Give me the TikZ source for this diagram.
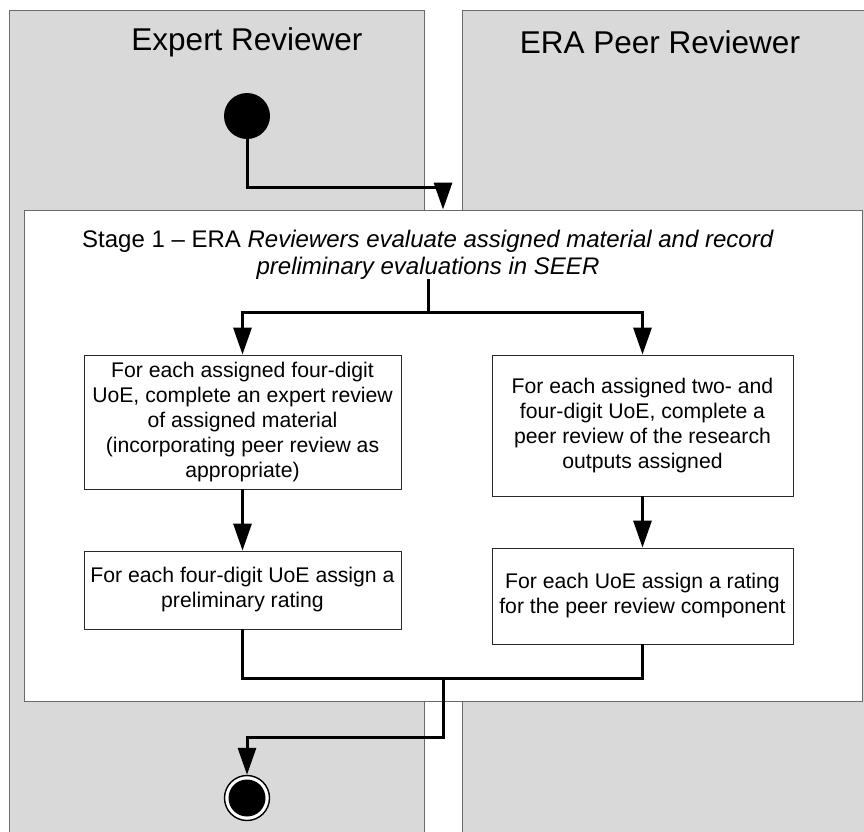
\documentclass[tikz,border=0pt]{standalone}
\usepackage{fontspec}
\setmainfont{Liberation Sans}
\usetikzlibrary{arrows.meta}
\definecolor{lanefill}{HTML}{D9D9D9}
\definecolor{laneedge}{HTML}{6A6A6A}
\definecolor{boxedge}{HTML}{2A2A2A}
\tikzset{
  lane/.style={fill=lanefill, draw=laneedge, line width=0.9pt},
  lanehead/.style={font=\fontsize{31.5}{36}\selectfont, text=black},
  stagebox/.style={draw=laneedge, fill=white, line width=0.9pt, inner sep=0pt},
  actbox/.style={draw=boxedge, fill=white, line width=0.8pt, align=center,
    inner sep=2pt, font=\fontsize{21.2}{25}\selectfont},
  wire/.style={line width=3pt},
  flow/.style={wire, -{Triangle[length=27pt,width=18pt]}},
  startdot/.style={circle, fill=black, minimum size=46pt, inner sep=0pt},
  enddot/.style={circle, draw=black, fill=white, line width=1.4pt, minimum size=45pt,
    inner sep=0pt, path picture={\fill[black] (path picture bounding box.center) circle (18.5pt);}}
}
\begin{document}
\begin{tikzpicture}[x=1pt,y=-1pt]
\useasboundingbox (0,0) rectangle (864,831);
\clip (0,0) rectangle (864,831);

% swim lanes
\path[lane] (9,10) rectangle (424,840);
\path[lane] (462,10) rectangle (880,840);
\node[lanehead] (headA) at (247,42) {Expert Reviewer};
\node[lanehead] (headB) at (660,42) {ERA Peer Reviewer};

% start node
\node[startdot] (start) at (247,116) {};

% stage 1 container
\node[stagebox, minimum width=838pt, minimum height=491pt] (stage) at (443,455.5) {};
\node[align=center, font=\fontsize{24}{26.5}\selectfont, inner sep=0pt] (title) at (428,255)
  {Stage 1 – ERA \textit{Reviewers evaluate assigned material and record}\\
   \textit{preliminary evaluations in SEER}};

% activities
\node[actbox, minimum width=317pt, minimum height=134pt] (b1) at (242.5,422)
  {For each assigned four-digit\\UoE, complete an expert review\\of assigned material\\(incorporating peer review as\\appropriate)};
\node[actbox, minimum width=301pt, minimum height=141pt] (b2) at (642.5,425.5)
  {For each assigned two- and\\four-digit UoE, complete a\\peer review of the research\\outputs assigned};
\node[actbox, minimum width=317pt, minimum height=78pt] (b3) at (242.5,590)
  {For each four-digit UoE assign a\\preliminary rating};
\node[actbox, minimum width=301pt, minimum height=96pt] (b4) at (642.5,596)
  {For each UoE assign a rating\\for the peer review component};

% end node
\node[enddot] (end) at (247,798) {};

% junction points
\coordinate (fork) at (428,312);
\coordinate (join) at (443,678);

% connectors
\draw[flow] (start.south) -- ++(0,48) -| (stage.north);
\draw[wire] (title.south) ++(0,-1) -- (fork);
\draw[flow] (fork) -| (b1.north);
\draw[flow] (fork) -| (b2.north);
\draw[flow] (b1) -- (b3);
\draw[flow] (b2) -- (b4);
\draw[wire] (b3.south) |- (join);
\draw[wire] (b4.south) |- (join);
\draw[flow] (join) -- ++(0,59) -| (end.north);
\end{tikzpicture}
\end{document}
